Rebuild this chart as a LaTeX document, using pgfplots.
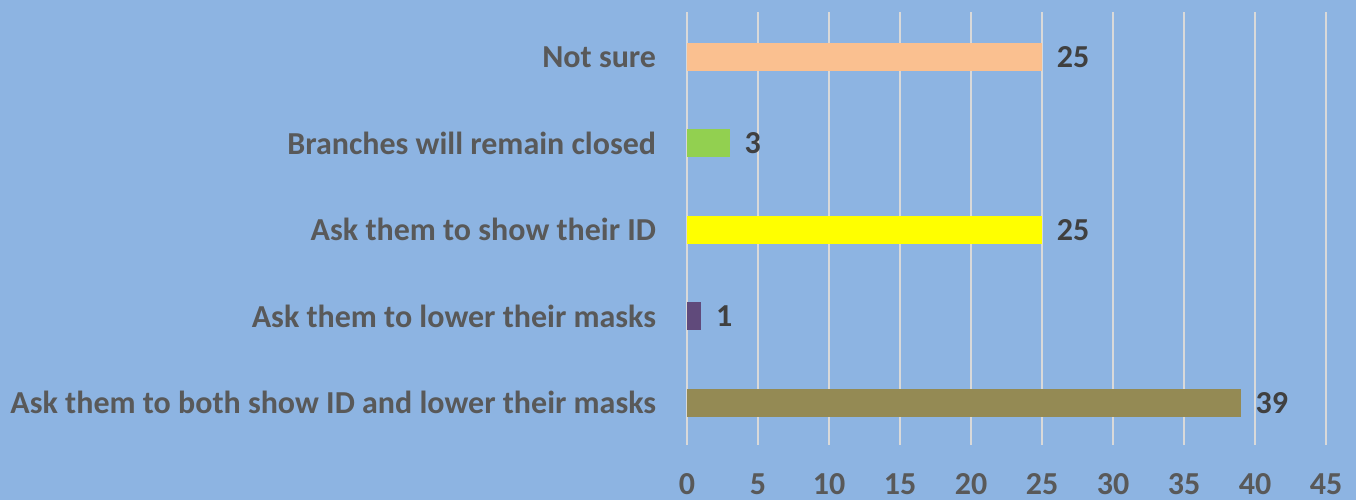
\documentclass[border=0pt]{standalone}
\usepackage{pgfplots}
\pgfplotsset{compat=1.18}
\usepackage{fontspec}
\setmainfont{Carlito}
\definecolor{bgc}{HTML}{8DB4E2}
\definecolor{gridc}{HTML}{D9D9D9}
\definecolor{labc}{HTML}{595959}
\definecolor{valc}{HTML}{404040}
\definecolor{c1}{HTML}{FAC090}
\definecolor{c2}{HTML}{92D050}
\definecolor{c3}{HTML}{FFFF00}
\definecolor{c4}{HTML}{604A7B}
\definecolor{c5}{HTML}{948A54}
\begin{document}
\begin{tikzpicture}
\fill[bgc] (0pt,0pt) rectangle (1017pt,375pt);
\useasboundingbox (0pt,0pt) rectangle (1017pt,375pt);
\begin{axis}[
  at={(515.25pt,41.25pt)}, anchor=south west,
  scale only axis, width=479.25pt, height=324.75pt,
  xbar, bar width=21pt, bar shift=0pt,
  xmin=0, xmax=45, ymin=-0.49, ymax=4.52,
  xtick={0,5,...,45},
  ytick={0,1,2,3,4},
  yticklabels={Ask them to both show ID and lower their masks, Ask them to lower their masks, Ask them to show their ID, Branches will remain closed, Not sure},
  axis line style={draw=none},
  major tick length=0pt,
  xmajorgrids, major grid style={gridc, line width=1.5pt},
  /pgf/number format/assume math mode=true,
  ticklabel style={font=\fontsize{24}{24}\selectfont\bfseries, text=labc, inner sep=0pt},
  yticklabel style={anchor=east, xshift=-23pt},
  xticklabel style={anchor=base, yshift=-37pt},
  nodes near coords,
  every node near coord/.append style={font=\fontsize{24}{24}\selectfont\bfseries, text=valc, anchor=west, inner sep=0pt, xshift=11pt},
  clip=false,
]
\addplot[draw=none, fill=c5] coordinates {(39,0)};
\addplot[draw=none, fill=c4] coordinates {(1,1)};
\addplot[draw=none, fill=c3] coordinates {(25,2)};
\addplot[draw=none, fill=c2] coordinates {(3,3)};
\addplot[draw=none, fill=c1] coordinates {(25,4)};
\end{axis}
\end{tikzpicture}
\end{document}
